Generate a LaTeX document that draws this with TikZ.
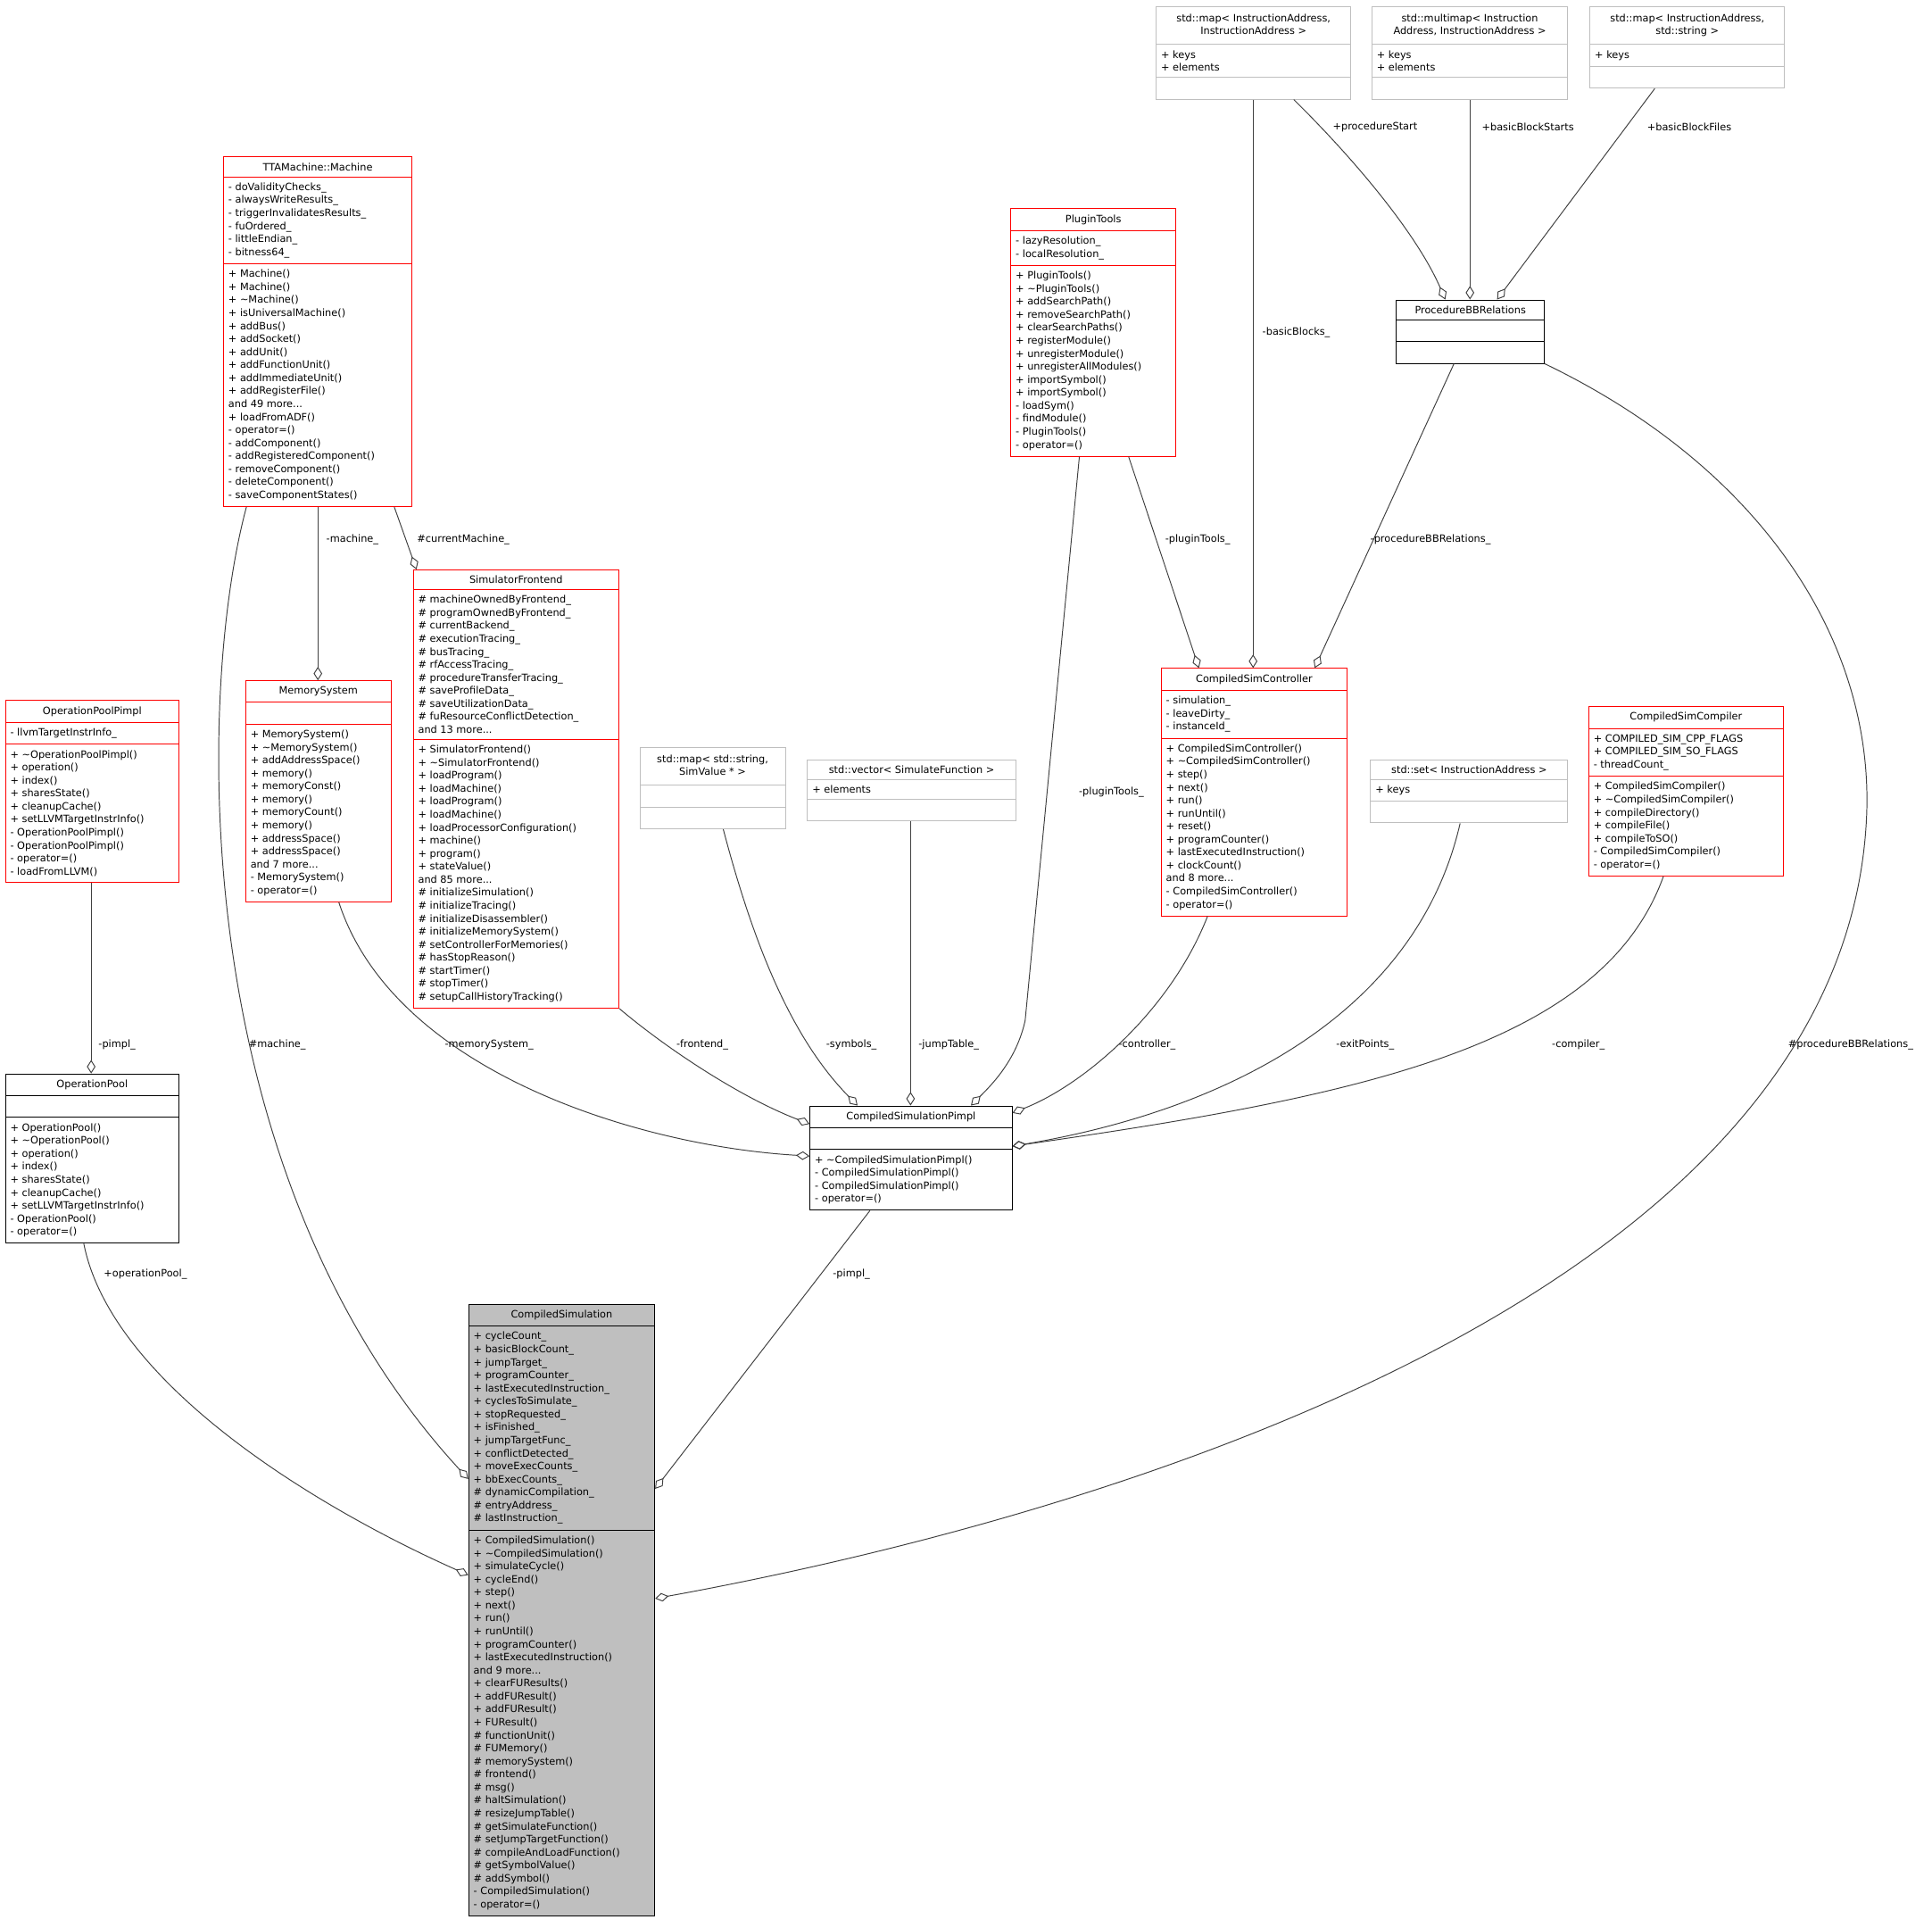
\documentclass[tikz,border=0pt]{standalone}
\usepackage{fontspec}
\newfontfamily\dv{DejaVu Sans}
\usetikzlibrary{shapes.multipart,arrows.meta}
\definecolor{gb}{HTML}{BFBFBF}
\definecolor{ln}{HTML}{404040}
\newcommand\tl[1]{\begin{tabular}{@{}c@{}}#1\end{tabular}}
\begin{document}
\begin{tikzpicture}[x=1pt,y=-1pt,
 cls/.style={rectangle split,rectangle split parts=3,rectangle split ignore empty parts=false,
  rectangle split part align={center,left,left},align=left,draw=black,line width=0.7pt,anchor=north west,
  inner xsep=4pt,inner ysep=4.5pt,font=\dv\fontsize{8.2}{10.55}\selectfont,rectangle split empty part height=8pt},
 rc/.style={cls,draw=red},
 gc/.style={cls,draw=gb},
 ed/.style={draw=ln,line width=0.7pt,-{Diamond[open,length=11pt,width=7pt]}},
 lb/.style={font=\dv\fontsize{8.2}{10}\selectfont,inner sep=1pt}]
\useasboundingbox (0,0) rectangle (1568,1564);
\fill[white] (0,0) rectangle (1568,1564);

\node[rc,minimum width=153pt] (machine) at (181,127) {TTAMachine::Machine
\nodepart{second}- doValidityChecks\_\\- alwaysWriteResults\_\\- triggerInvalidatesResults\_\\- fuOrdered\_\\- littleEndian\_\\- bitness64\_
\nodepart{third}+ Machine()\\+ Machine()\\+ \textasciitilde Machine()\\+ isUniversalMachine()\\+ addBus()\\+ addSocket()\\+ addUnit()\\+ addFunctionUnit()\\+ addImmediateUnit()\\+ addRegisterFile()\\and 49 more...\\+ loadFromADF()\\- operator=()\\- addComponent()\\- addRegisteredComponent()\\- removeComponent()\\- deleteComponent()\\- saveComponentStates()};

\node[rc,minimum width=141pt] (opp) at (4,568) {OperationPoolPimpl
\nodepart{second}- llvmTargetInstrInfo\_
\nodepart{third}+ \textasciitilde OperationPoolPimpl()\\+ operation()\\+ index()\\+ sharesState()\\+ cleanupCache()\\+ setLLVMTargetInstrInfo()\\- OperationPoolPimpl()\\- OperationPoolPimpl()\\- operator=()\\- loadFromLLVM()};

\node[cls,minimum width=141pt] (op) at (4,871) {OperationPool
\nodepart{second}\mbox{}
\nodepart{third}+ OperationPool()\\+ \textasciitilde OperationPool()\\+ operation()\\+ index()\\+ sharesState()\\+ cleanupCache()\\+ setLLVMTargetInstrInfo()\\- OperationPool()\\- operator=()};

\node[rc,minimum width=118pt] (mem) at (199,552) {MemorySystem
\nodepart{second}\mbox{}
\nodepart{third}+ MemorySystem()\\+ \textasciitilde MemorySystem()\\+ addAddressSpace()\\+ memory()\\+ memoryConst()\\+ memory()\\+ memoryCount()\\+ memory()\\+ addressSpace()\\+ addressSpace()\\and 7 more...\\- MemorySystem()\\- operator=()};

\node[rc,minimum width=167pt] (sf) at (335,462) {SimulatorFrontend
\nodepart{second}\# machineOwnedByFrontend\_\\\# programOwnedByFrontend\_\\\# currentBackend\_\\\# executionTracing\_\\\# busTracing\_\\\# rfAccessTracing\_\\\# procedureTransferTracing\_\\\# saveProfileData\_\\\# saveUtilizationData\_\\\# fuResourceConflictDetection\_\\and 13 more...
\nodepart{third}+ SimulatorFrontend()\\+ \textasciitilde SimulatorFrontend()\\+ loadProgram()\\+ loadMachine()\\+ loadProgram()\\+ loadMachine()\\+ loadProcessorConfiguration()\\+ machine()\\+ program()\\+ stateValue()\\and 85 more...\\\# initializeSimulation()\\\# initializeTracing()\\\# initializeDisassembler()\\\# initializeMemorySystem()\\\# setControllerForMemories()\\\# hasStopReason()\\\# startTimer()\\\# stopTimer()\\\# setupCallHistoryTracking()};

\node[gc,minimum width=118pt] (symmap) at (519,606) {\tl{std::map< std::string,\\SimValue * >}
\nodepart{second}\mbox{}
\nodepart{third}\mbox{}};

\node[gc,minimum width=169pt] (vec) at (655,616) {std::vector< SimulateFunction >
\nodepart{second}+ elements
\nodepart{third}\mbox{}};

\node[rc,minimum width=134pt] (pt) at (820,169) {PluginTools
\nodepart{second}- lazyResolution\_\\- localResolution\_
\nodepart{third}+ PluginTools()\\+ \textasciitilde PluginTools()\\+ addSearchPath()\\+ removeSearchPath()\\+ clearSearchPaths()\\+ registerModule()\\+ unregisterModule()\\+ unregisterAllModules()\\+ importSymbol()\\+ importSymbol()\\- loadSym()\\- findModule()\\- PluginTools()\\- operator=()};

\node[gc,minimum width=158pt] (m1) at (938,5) {\tl{std::map< InstructionAddress,\\InstructionAddress >}
\nodepart{second}+ keys\\+ elements
\nodepart{third}\mbox{}};

\node[gc,minimum width=159pt] (m2) at (1113,5) {\tl{std::multimap< Instruction\\Address, InstructionAddress >}
\nodepart{second}+ keys\\+ elements
\nodepart{third}\mbox{}};

\node[gc,minimum width=158pt] (m3) at (1290,5) {\tl{std::map< InstructionAddress,\\std::string >}
\nodepart{second}+ keys
\nodepart{third}\mbox{}};

\node[cls,minimum width=120pt] (pbb) at (1133,243) {ProcedureBBRelations
\nodepart{second}\mbox{}
\nodepart{third}\mbox{}};

\node[rc,minimum width=151pt] (ctl) at (942,542) {CompiledSimController
\nodepart{second}- simulation\_\\- leaveDirty\_\\- instanceId\_
\nodepart{third}+ CompiledSimController()\\+ \textasciitilde CompiledSimController()\\+ step()\\+ next()\\+ run()\\+ runUntil()\\+ reset()\\+ programCounter()\\+ lastExecutedInstruction()\\+ clockCount()\\and 8 more...\\- CompiledSimController()\\- operator=()};

\node[gc,minimum width=160pt] (set) at (1112,616) {std::set< InstructionAddress >
\nodepart{second}+ keys
\nodepart{third}\mbox{}};

\node[rc,minimum width=158pt] (comp) at (1289,573) {CompiledSimCompiler
\nodepart{second}+ COMPILED\_SIM\_CPP\_FLAGS\\+ COMPILED\_SIM\_SO\_FLAGS\\- threadCount\_
\nodepart{third}+ CompiledSimCompiler()\\+ \textasciitilde CompiledSimCompiler()\\+ compileDirectory()\\+ compileFile()\\+ compileToSO()\\- CompiledSimCompiler()\\- operator=()};

\node[cls,minimum width=164pt] (pimpl) at (657,897) {CompiledSimulationPimpl
\nodepart{second}\mbox{}
\nodepart{third}+ \textasciitilde CompiledSimulationPimpl()\\- CompiledSimulationPimpl()\\- CompiledSimulationPimpl()\\- operator=()};

\node[cls,fill=gb,minimum width=151pt] (cs) at (380,1058) {CompiledSimulation
\nodepart{second}+ cycleCount\_\\+ basicBlockCount\_\\+ jumpTarget\_\\+ programCounter\_\\+ lastExecutedInstruction\_\\+ cyclesToSimulate\_\\+ stopRequested\_\\+ isFinished\_\\+ jumpTargetFunc\_\\+ conflictDetected\_\\+ moveExecCounts\_\\+ bbExecCounts\_\\\# dynamicCompilation\_\\\# entryAddress\_\\\# lastInstruction\_
\nodepart{third}+ CompiledSimulation()\\+ \textasciitilde CompiledSimulation()\\+ simulateCycle()\\+ cycleEnd()\\+ step()\\+ next()\\+ run()\\+ runUntil()\\+ programCounter()\\+ lastExecutedInstruction()\\and 9 more...\\+ clearFUResults()\\+ addFUResult()\\+ addFUResult()\\+ FUResult()\\\# functionUnit()\\\# FUMemory()\\\# memorySystem()\\\# frontend()\\\# msg()\\\# haltSimulation()\\\# resizeJumpTable()\\\# getSimulateFunction()\\\# setJumpTargetFunction()\\\# compileAndLoadFunction()\\\# getSymbolValue()\\\# addSymbol()\\- CompiledSimulation()\\- operator=()};

% edges
\draw[ed] (machine.south -| 200,0) .. controls (160,560) and (150,950) .. (cs.west |- 0,1200);
\node[lb] (l1) at (225,848) {\#machine\_};
\draw[ed] (machine.south -| 258,0) -- (mem.north -| 258,0);
\node[lb] (l2) at (286,438) {-machine\_};
\draw[ed] (machine.south -| 320,0) -- (sf.north -| 338,0);
\node[lb] (l3) at (376,438) {\#currentMachine\_};
\draw[ed] (opp.south -| 74,0) -- (op.north -| 74,0);
\node[lb] (l4) at (95,848) {-pimpl\_};
\draw[ed] (op.south -| 68,0) .. controls (90,1120) and (250,1220) .. (cs.west |- 0,1278);
\node[lb] (l5) at (118,1034) {+operationPool\_};
\draw[ed] (mem.south -| 275,0) .. controls (320,870) and (520,930) .. (pimpl.west |- 0,938);
\node[lb] (l6) at (397,848) {-memorySystem\_};
\draw[ed] (sf.south east) .. controls (540,850) and (600,890) .. (pimpl.west |- 0,912);
\node[lb] (l7) at (570,848) {-frontend\_};
\draw[ed] (symmap.south -| 587,0) .. controls (610,760) and (640,840) .. (pimpl.north -| 696,0);
\node[lb] (l8) at (691,848) {-symbols\_};
\draw[ed] (vec.south -| 739,0) -- (pimpl.north -| 739,0);
\node[lb] (l9) at (770,848) {-jumpTable\_};
\draw[ed] (pt.south -| 876,0) -- (832,828) .. controls (825,860) and (805,880) .. (pimpl.north -| 788,0);
\node[lb] (l10) at (902,643) {-pluginTools\_};
\draw[ed] (pt.south -| 916,0) -- (ctl.north -| 973,0);
\node[lb] (l11) at (972,438) {-pluginTools\_};
\draw[ed] (m1.south -| 1017,0) -- (ctl.north -| 1017,0);
\node[lb] (l12) at (1052,270) {-basicBlocks\_};
\draw[ed] (pbb.south -| 1180,0) -- (ctl.north -| 1067,0);
\node[lb] (l13) at (1161,438) {-procedureBBRelations\_};
\draw[ed] (m1.south -| 1050,0) .. controls (1100,130) and (1150,190) .. (pbb.north -| 1173,0);
\node[lb] (l14) at (1116,103) {+procedureStart};
\draw[ed] (m2.south -| 1193,0) -- (pbb.north -| 1193,0);
\node[lb] (l15) at (1240,103) {+basicBlockStarts};
\draw[ed] (m3.south -| 1343,0) -- (pbb.north -| 1215,0);
\node[lb] (l16) at (1371,103) {+basicBlockFiles};
\draw[ed] (ctl.south -| 980,0) .. controls (950,820) and (880,880) .. (pimpl.east |- 0,903);
\node[lb] (l17) at (931,848) {-controller\_};
\draw[ed] (set.south -| 1185,0) .. controls (1150,820) and (1000,900) .. (pimpl.east |- 0,930);
\node[lb] (l18) at (1108,848) {-exitPoints\_};
\draw[ed] (comp.south -| 1350,0) .. controls (1300,850) and (1100,890) .. (pimpl.east |- 0,930);
\node[lb] (l19) at (1281,848) {-compiler\_};
\draw[ed] (pbb.south east) .. controls (1430,380) and (1520,520) .. (1515,660) .. controls (1500,1050) and (900,1230) .. (cs.east |- 0,1297);
\node[lb] (l20) at (1502,848) {\#procedureBBRelations\_};
\draw[ed] (pimpl.south -| 706,0) -- (cs.east |- 0,1208);
\node[lb] (l21) at (691,1034) {-pimpl\_};
\end{tikzpicture}
\end{document}
